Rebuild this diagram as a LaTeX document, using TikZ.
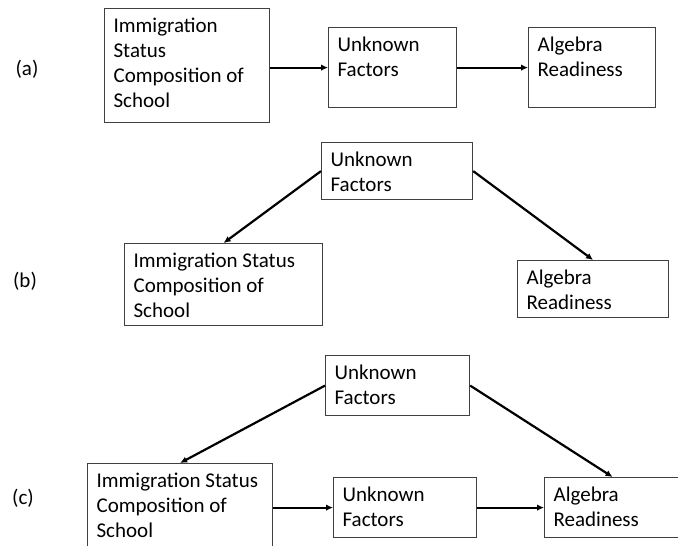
\documentclass[tikz,border=0pt]{standalone}
\usepackage{fontspec}
\setmainfont{Carlito}
\usetikzlibrary{arrows.meta}

\begin{document}
\begin{tikzpicture}[x=1pt, y=-1pt,
    box/.style={draw=black!75, line width=1.2pt, anchor=north west,
      inner xsep=9pt, inner ysep=0pt, align=flush left, text height=24pt,
      font=\fontsize{21}{25}\selectfont},
    arr/.style={line width=2.2pt, -{Latex[length=7pt,width=6.5pt]}},
    tag/.style={font=\fontsize{21}{25}\selectfont}]
    \useasboundingbox (0,0) rectangle (678,546);

    % (a)
    \node[tag] (la) at (27,69) {(a)};
    \node[box, text width=147pt, text depth=90pt] (a1) at (104,8) {Immigration\\Status\\Composition of\\School};
    \node[box, text width=110pt, text depth=56pt] (a2) at (328,27) {Unknown\\Factors};
    \node[box, text width=109pt, text depth=56pt] (a3) at (528,27) {Algebra\\Readiness};
    \draw[arr] (a1.east |- a2.west) -- (a2.west);
    \draw[arr] (a2.east) -- (a3.west);

    % (b)
    \node[tag] (lb) at (25,281) {(b)};
    \node[box, text width=133pt, text depth=33pt] (b1) at (321,142) {Unknown\\Factors};
    \node[box, text width=180pt, text depth=58pt] (b2) at (124,243) {Immigration Status\\Composition of\\School};
    \node[box, text width=133pt, text depth=33pt] (b3) at (517,260) {Algebra\\Readiness};
    \draw[arr] (b1.west) -- (b2.north);
    \draw[arr] (b1.east) -- (b3.north);

    % (c)
    \node[tag] (lc) at (23,498) {(c)};
    \node[box, text width=126pt, text depth=36pt] (c1) at (325,355) {Unknown\\Factors};
    \node[box, text width=167pt, text depth=64pt] (c2) at (87,463) {Immigration Status\\Composition of\\School};
    \node[box, text width=125pt, text depth=36pt] (c3) at (333,477) {Unknown\\Factors};
    \node[box, text width=118pt, text depth=36pt] (c4) at (544,477) {Algebra\\Readiness};
    \draw[arr] (c1.west) -- (c2.north);
    \draw[arr] (c1.east) -- (c4.north);
    \draw[arr] (c2.east |- c3.west) -- (c3.west);
    \draw[arr] (c3.east) -- (c4.west);
\end{tikzpicture}
\end{document}
